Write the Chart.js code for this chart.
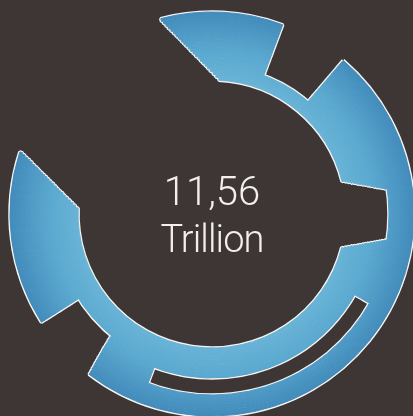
<!DOCTYPE html>
<html>
<head>
<meta charset="utf-8">
<title>11,56 Trillion</title>
<script src="https://cdn.jsdelivr.net/npm/chart.js@4.4.0/dist/chart.umd.min.js"></script>
<style>
    html, body {
        margin: 0;
        padding: 0;
        width: 413px;
        height: 416px;
        overflow: hidden;
        background: #3e3634;
    }
    canvas {
        position: absolute;
        left: 0;
        top: 0;
    }
    .centerText {
        position: absolute;
        left: 112px;
        width: 200px;
        text-align: center;
        color: #f2efec;
        font-family: Roboto, "Open Sans", sans-serif;
        font-weight: 300;
        line-height: 1;
        white-space: nowrap;
    }
    #totalValue { top: 172px; font-size: 40px; }
    #totalUnit { top: 220px; font-size: 38px; letter-spacing: -0.9px; }
</style>
</head>
<body>
<canvas id="outlineChart" width="424" height="428"></canvas>
<canvas id="ringChart" width="424" height="428"></canvas>
<div id="totalValue" class="centerText"></div>
<div id="totalUnit" class="centerText"></div>

<script>
//--- Angles in degrees, clockwise from 12 o'clock. One value per ring, inner ring first.
// slanted leading edge of the top piece
const leadEdge = [2.9, 1.6, 0.5, 359.3, 358.3, 357.4, 356.5, 355.7, 355.0, 354.1, 353.3, 352.5,
    351.9, 351.2, 350.6, 350.0, 349.5, 349.1, 348.6, 348.0, 347.4, 346.8, 346.3, 345.8, 345.3];
// slanted trailing edge of the left piece
const trailEdge = [272.6, 273.7, 274.7, 275.6, 276.5, 277.3, 278.1, 278.7, 279.4, 280.1, 280.9, 281.5,
    282.1, 282.7, 283.2, 283.7, 284.2, 284.6, 285.0, 285.5, 286.1, 286.6, 287.0, 287.5, 287.9];
// notch on the right (inner rings only)
const notchOpen = [76.0, 76.5, 77.0, 77.5, 77.9, 78.4, 78.7, 79.1, 79.4, 79.8, 80.2, 80.6, 80.9, 81.2, 81.5, 81.8];
const notchClose = [104.5, 103.9, 103.4, 102.9, 102.5, 102.1, 101.7, 101.3, 100.9, 100.6, 100.2, 99.8, 99.5, 99.2, 98.9, 98.6];
// end of the bottom piece (outer rings only)
const bottomEnd = [219.5, 219.4, 219.2, 219.1, 219.0, 218.9, 218.7, 218.6, 218.5, 218.4, 218.2, 218.1, 217.9, 217.8, 217.6, 217.5];
// straight gaps
const topGap = [20.5, 40.5];
const slotGap = [119.5, 200.7];
const leftPieceStart = 237.6;

const totalValue = '11,56';
const totalUnit = 'Trillion';

//--- layout (px)
const innerRadius = 134;
const outerRadius = 202;
const ringWidths = [2.8, 2.8, 2.8, 2.8, 2.8, 2.5, 2.5, 2.5, 2.5, 3, 3, 2.6, 2.6, 2.6, 2.6, 2.6, 2, 2, 3, 3, 3, 3, 3, 3, 3];
const topGapFrom = 148;     // band under the top gap is this thick
const bottomGapFrom = 158;
const slotFrom = 164, slotTo = 181;
const notchTo = 177;
const startAngle = 330;
const emptyColor = 'rgba(0,0,0,0)';

// put together the edge list of every ring
function buildRings() {
    const result = [];
    let r = innerRadius;
    let notchIdx = 0, bottomIdx = 0;
    ringWidths.forEach(function (w, i) {
        const mid = r + w / 2;
        const edges = [leadEdge[i]];
        if (mid >= topGapFrom) edges.push(topGap[0], topGap[1]);
        if (mid < notchTo) {
            edges.push(notchOpen[notchIdx], notchClose[notchIdx]);
            notchIdx++;
        }
        if (mid >= slotFrom && mid < slotTo) edges.push(slotGap[0], slotGap[1]);
        if (mid >= bottomGapFrom) {
            edges.push(bottomEnd[bottomIdx], leftPieceStart);
            bottomIdx++;
        }
        edges.push(trailEdge[i]);
        result.push(edges);
        r += w;
    });
    return result;
}

// edges -> slice sizes, starting at startAngle (even slices empty, odd filled)
function toSpans(edges) {
    const spans = [];
    let prev = 0;
    edges.forEach(function (deg) {
        const pos = (deg - startAngle + 360) % 360;
        spans.push(+(pos - prev).toFixed(2));
        prev = pos;
    });
    spans.push(+(360 - prev).toFixed(2));
    return spans;
}

const rings = buildRings();

let ringGradient = null;
function blueFill(context) {
    const chart = context.chart;
    const area = chart.chartArea;
    if (!area) return '#5aa8d0';
    if (!ringGradient) {
        const cx = (area.left + area.right) / 2;
        const cy = (area.top + area.bottom) / 2;
        ringGradient = chart.ctx.createRadialGradient(cx, cy, innerRadius, cx, cy, outerRadius);
        ringGradient.addColorStop(0, '#68b3d6');
        ringGradient.addColorStop(0.4, '#5ba9d0');
        ringGradient.addColorStop(1, '#428bbb');
    }
    return ringGradient;
}

function whiteFill() {
    return '#f4f4f2';
}

function buildDatasets(fill, width) {
    return rings.map(function (edges, i) {
        const pick = function (context) {
            return context.dataIndex % 2 ? fill(context) : emptyColor;
        };
        return {
            data: toSpans(edges),
            weight: ringWidths[i],
            backgroundColor: pick,
            borderColor: pick,
            borderWidth: width
        };
    }).reverse(); // first dataset is the outer ring
}

function makeChart(id, fill, width) {
    const ctx = document.getElementById(id);
    return new Chart(ctx, {
        type: 'doughnut',
        data: {
            datasets: buildDatasets(fill, width)
        },
        options: {
            responsive: false,
            animation: false,
            events: [],
            rotation: startAngle,
            radius: outerRadius,
            cutout: (innerRadius / outerRadius * 100) + '%',
            layout: { padding: 0 },
            plugins: {
                legend: { display: false },
                tooltip: { enabled: false }
            }
        }
    });
}

// white shape a little wider behind, blue shape on top -> thin white outline
makeChart('outlineChart', whiteFill, 3.5);
makeChart('ringChart', blueFill, 1);

document.getElementById('totalValue').textContent = totalValue;
document.getElementById('totalUnit').textContent = totalUnit;
</script>
</body>
</html>
